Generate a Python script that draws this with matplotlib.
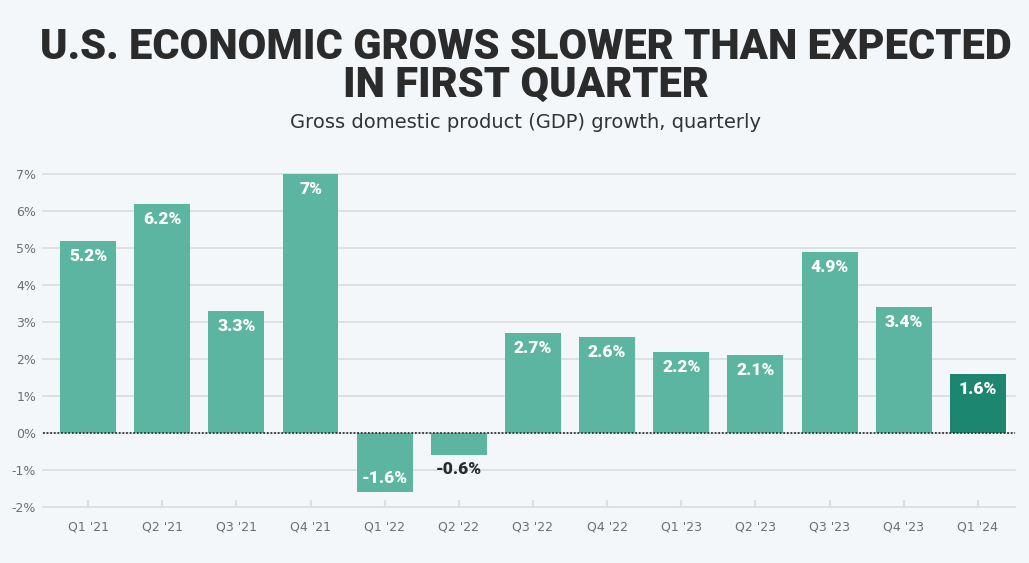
import matplotlib.pyplot as plt

quarters = ["Q1 '21", "Q2 '21", "Q3 '21", "Q4 '21", "Q1 '22", "Q2 '22", "Q3 '22",
            "Q4 '22", "Q1 '23", "Q2 '23", "Q3 '23", "Q4 '23", "Q1 '24"]
growth = [5.2, 6.2, 3.3, 7.0, -1.6, -0.6, 2.7, 2.6, 2.2, 2.1, 4.9, 3.4, 1.6]
labels = ["5.2%", "6.2%", "3.3%", "7%", "-1.6%", "-0.6%", "2.7%", "2.6%",
          "2.2%", "2.1%", "4.9%", "3.4%", "1.6%"]
yticks = [-2, -1, 0, 1, 2, 3, 4, 5, 6, 7]

bg = "#f3f7fa"
bar_col = "#5cb5a1"
last_col = "#1c8670"

fig = plt.figure(figsize=(10.29, 5.63), dpi=100, facecolor=bg)
ax = fig.add_axes([0.0418, 0.0995, 0.9446, 0.5915], facecolor=bg)

x = list(range(len(growth)))
colors = [bar_col] * (len(growth) - 1) + [last_col]
ax.bar(x, growth, width=0.755, color=colors, zorder=2)

for i, (v, lab) in enumerate(zip(growth, labels)):
    if v >= 0:
        off, col = -15, "white"
    elif v < -1:
        off, col = 14, "white"
    else:
        off, col = -14, "#2b2b2b"
    ax.annotate(lab, (i, v), xytext=(0, off), textcoords="offset pixels",
                ha="center", va="center", color=col, fontsize=12.5,
                fontweight="heavy", family="Roboto", zorder=3)

ax.axhline(0, color="#333333", lw=1.3, ls=(0, (1, 1)), zorder=4)

ax.set_ylim(-2, 7.0)
ax.set_xlim(-0.607, 12.5)
ax.set_yticks(yticks)
ax.set_yticklabels([f"{t}%" for t in yticks])
ax.set_xticks(x)
ax.set_xticklabels(quarters)
ax.grid(axis="y", color="#dcdfe2", lw=1.3, zorder=0, clip_on=False)
for s in ax.spines.values():
    s.set_visible(False)
ax.tick_params(axis="y", length=0, pad=5, labelsize=9, labelcolor="#6e6e6e")
ax.tick_params(axis="x", length=5, width=1.5, color="#dcdfe2", direction="in",
               pad=10, labelsize=9, labelcolor="#6e6e6e")

fig.text(0.511, 0.882, "U.S. ECONOMIC GROWS SLOWER THAN EXPECTED\nIN FIRST QUARTER",
         ha="center", va="center", fontsize=30, fontweight="heavy",
         family="Roboto", color="#2b2b2b", linespacing=0.92)
fig.text(0.511, 0.782, "Gross domestic product (GDP) growth, quarterly",
         ha="center", va="center", fontsize=14, color="#333333")

fig.savefig("out.png", dpi=100, facecolor=bg)
